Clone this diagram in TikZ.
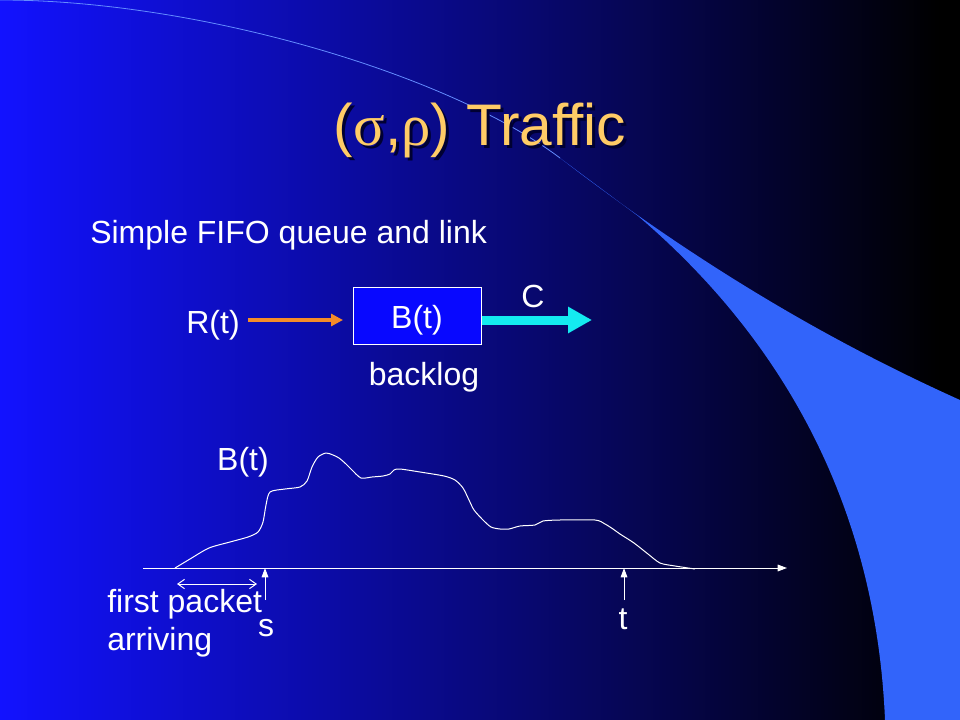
\documentclass[tikz,border=0pt]{standalone}
\usepackage{fontspec}
\setmainfont{Liberation Sans}
\newfontfamily\greekfont{Liberation Serif}
\usepackage{tikz}
\usetikzlibrary{arrows.meta, positioning}
\definecolor{slideblue}{RGB}{18,18,255}
\definecolor{slidemid}{RGB}{0,0,210}
\definecolor{swoosh}{RGB}{50,100,250}
\definecolor{swooshline}{RGB}{100,140,255}
\definecolor{titlegold}{RGB}{255,204,102}
\definecolor{titleshade}{RGB}{0,0,50}
\definecolor{inorange}{RGB}{245,140,40}
\definecolor{linkcyan}{RGB}{20,235,240}
\definecolor{boxblue}{RGB}{8,8,255}

\tikzset{
  lbl/.style={text=white, inner sep=0pt, anchor=base,
    font=\fontsize{24}{28.5}\selectfont},
  titletext/.style={inner sep=0pt, anchor=base,
    font=\fontsize{44}{50}\selectfont},
  queuebox/.style={draw=white, line width=0.75pt, fill=boxblue,
    minimum width=96pt, minimum height=42pt, inner sep=0pt},
  inarrow/.style={draw=inorange, line width=2.5pt,
    -{Triangle[length=9pt,width=9pt]}},
  outarrow/.style={draw=linkcyan, line width=6.75pt,
    -{Triangle[length=18pt,width=18.75pt]}},
  axis/.style={draw=white, line width=0.75pt, -{Triangle[length=7pt,width=5pt]}},
  trace/.style={draw=white, line width=0.75pt, line join=round},
  span/.style={draw=white, line width=0.75pt,
    {Straight Barb[length=5pt,width=7pt]}-{Straight Barb[length=5pt,width=7pt]}},
}

\begin{document}
\begin{tikzpicture}[x=0.75pt, y=-0.75pt]
\useasboundingbox (0,0) rectangle (960,720);
% slide background
\shade[left color=slideblue, middle color=slidemid, right color=black] (0,0) rectangle (940,720);
\fill[black] (940,0) rectangle (960,720);
\fill[swoosh] (560,158) .. controls (690,258) and (820,337) .. (960,400)
  -- (960,720) -- (885,720) .. controls (875,480) and (760,320) .. (638,216) -- cycle;
\draw[swooshline, line width=0.6pt] (0,0) .. controls (200,0) and (450,75) .. (560,158);

% title
\node[titletext, text=titleshade] (ttlshade) at (483,149)
  {({\greekfont σ},{\greekfont ρ}) Traffic};
\node[titletext, text=titlegold] (ttl) at (480,146)
  {({\greekfont σ},{\greekfont ρ}) Traffic};

\node[lbl, anchor=base west] (intro) at (90,244) {Simple FIFO queue and link};

% queue and link
\node[queuebox] (buf) at (417,316) {};
\node[lbl] (bufname) at (417,328) {B(t)};
\node[lbl] (rt) at (213,333) {R(t)};
\node[lbl] (cap) at (533,307) {C};
\node[lbl] (backlog) at (424,385) {backlog};
\coordinate (qin) at (343,320);
\coordinate (link) at (592,320);
\draw[inarrow] (248,320) -- (qin);
\draw[outarrow] (buf.east |- link) -- (link);

% backlog over time
\node[lbl] (bt) at (243,470) {B(t)};
\coordinate (o) at (143,568);
\coordinate (tend) at (787,568);
\draw[axis] (o) -- (tend);
\draw[trace] plot[smooth, tension=0.45] coordinates {
  (175,568) (190,559) (209,548) (230,542) (248,537) (258,532) (263,522)
  (266,505) (270,492) (285,489) (300,487) (307,481) (312,467) (318,457)
  (326,453) (333,455) (339,458) (346,464) (352,470) (361,478) (372,477)
  (383,476) (390,474) (394,470) (400,469) (420,472) (444,476) (455,480)
  (463,488) (469,500) (474,510) (483,520) (491,527) (500,529) (509,529)
  (520,526) (535,525) (543,521) (560,520) (595,520) (605,524) (613,529)
  (620,534) (634,543) (648,554) (660,563) (675,566) (695,569)};

\coordinate (fp1) at (177,584);
\coordinate (fp2) at (257,584);
\draw[span] (fp1) -- (fp2);
\node[lbl, anchor=west, align=left] (first) at (107,623) {first packet\\arriving};

\coordinate (sfoot) at (265,600);
\coordinate (tfoot) at (624,600);
\draw[axis] (sfoot) -- (sfoot |- o);
\draw[axis] (tfoot) -- (tfoot |- o);
\node[lbl] (slbl) at (266,636) {s};
\node[lbl] (tlbl) at (623,629) {t};
\end{tikzpicture}
\end{document}
